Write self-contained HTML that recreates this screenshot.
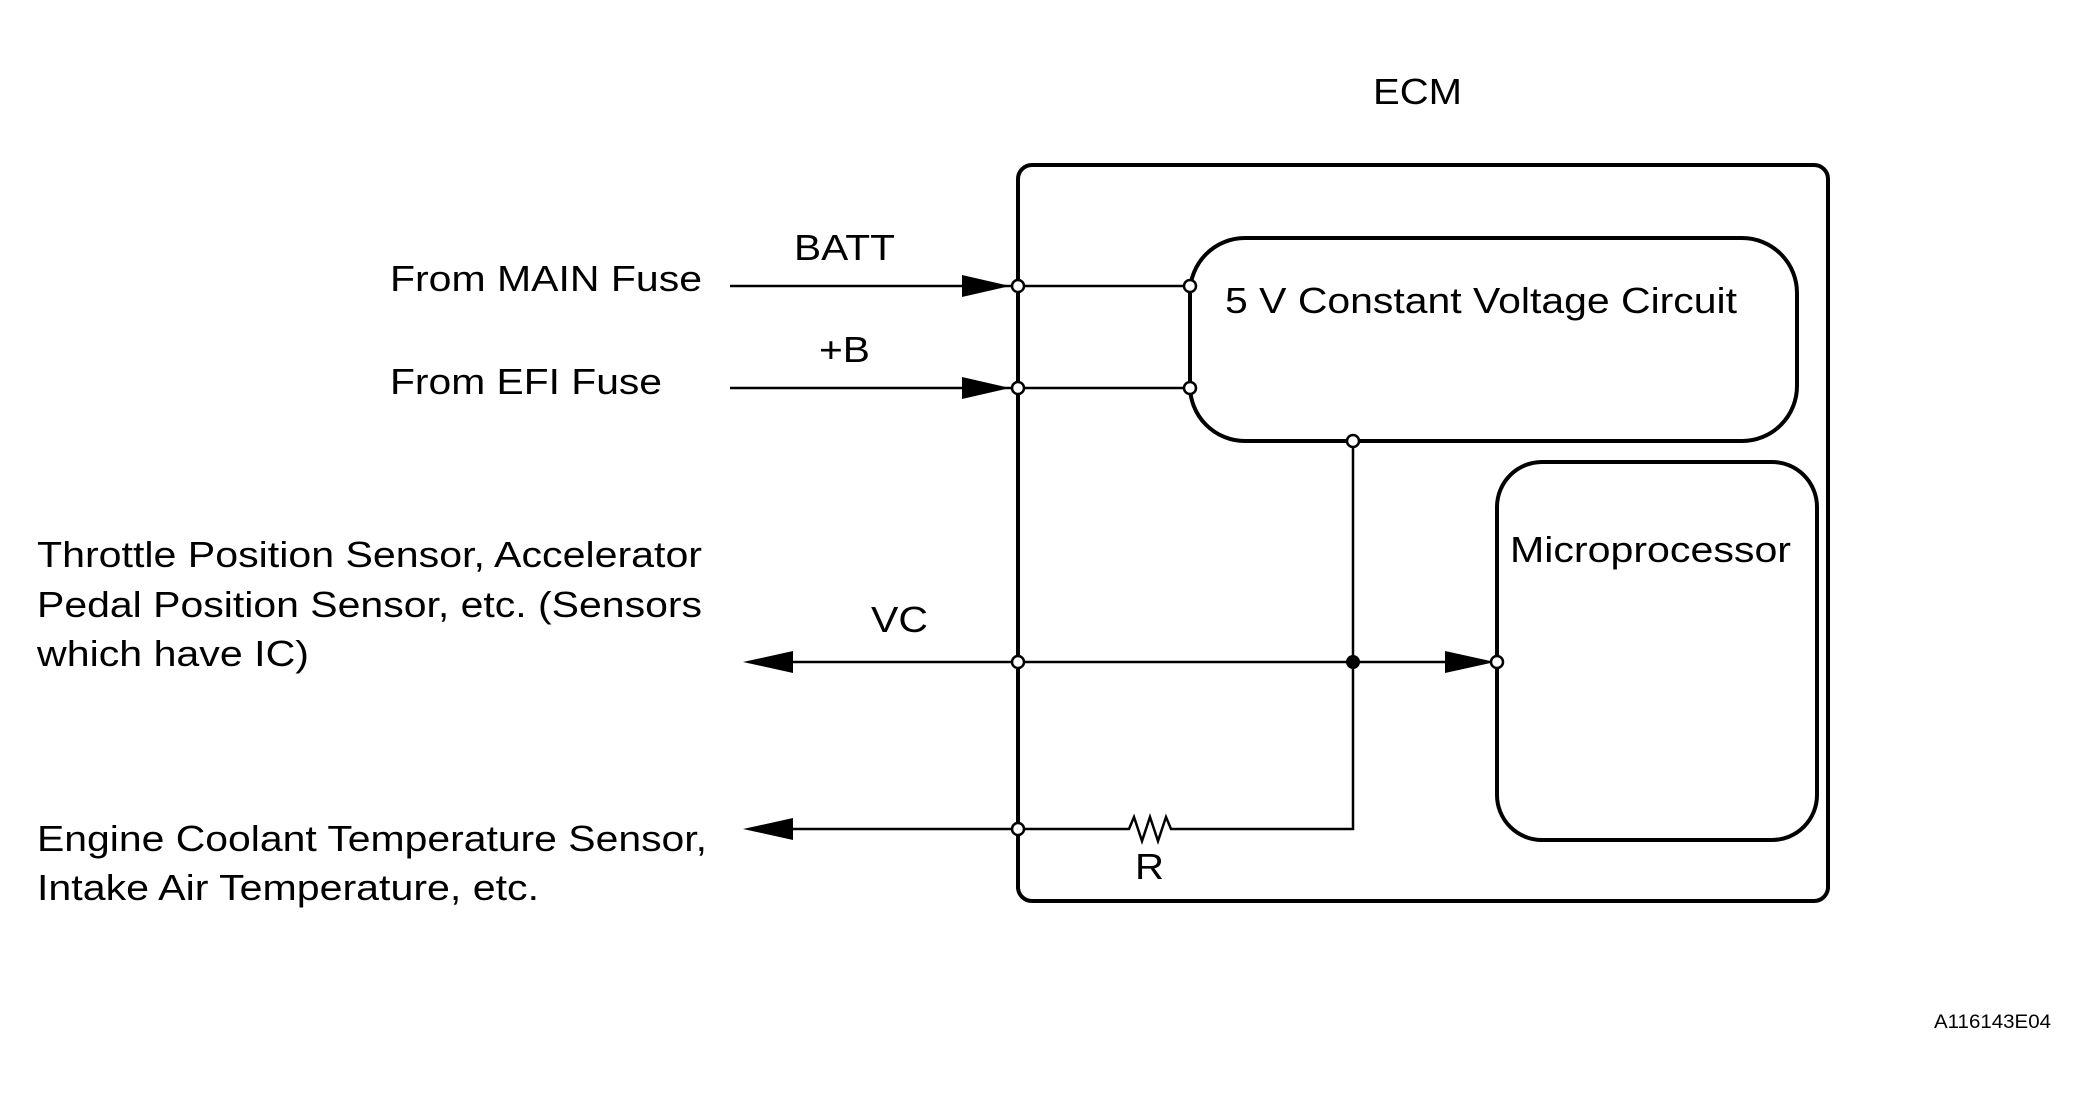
<!DOCTYPE html>
<html><head><style>html,body{margin:0;padding:0;background:#fff}svg{display:block}</style></head><body>
<svg width="2089" height="1105" viewBox="0 0 2089 1105" xmlns="http://www.w3.org/2000/svg" font-family="Liberation Sans, Arial, sans-serif" font-size="36" fill="#000">
<rect width="2089" height="1105" fill="#fff"/>
<g fill="none" stroke="#000">
<rect x="1018" y="165" width="810" height="736" rx="14" stroke-width="4"/>
<rect x="1190" y="238" width="607" height="203" rx="55" stroke-width="4"/>
<rect x="1497" y="462" width="320" height="378" rx="45" stroke-width="4"/>
<g stroke-width="2.5">
<line x1="730" y1="286" x2="1190" y2="286"/>
<line x1="730" y1="388" x2="1190" y2="388"/>
<line x1="790" y1="662" x2="1460" y2="662"/>
<polyline points="790,829 1129,829 1134,817 1142,841 1150,817 1158,841 1166,817 1171,829 1353,829 1353,441"/>
</g>
</g>
<g fill="#000">
<polygon points="962,275 1010,286 962,297"/>
<polygon points="962,377 1010,388 962,399"/>
<polygon points="743,662 793,651 793,673"/>
<polygon points="743,829 793,818 793,840"/>
<polygon points="1445,651 1495,662 1445,673"/>
<circle cx="1353" cy="662" r="7"/>
</g>
<g fill="#fff" stroke="#000" stroke-width="2.5">
<circle cx="1018" cy="286" r="6"/><circle cx="1018" cy="388" r="6"/>
<circle cx="1018" cy="662" r="6"/><circle cx="1018" cy="829" r="6"/>
<circle cx="1190" cy="286" r="6"/><circle cx="1190" cy="388" r="6"/>
<circle cx="1353" cy="441" r="6"/><circle cx="1497" cy="662" r="6"/>
</g>
<g lengthAdjust="spacingAndGlyphs">
<text x="1373" y="104" textLength="89" lengthAdjust="spacingAndGlyphs">ECM</text>
<text x="794" y="260" textLength="101" lengthAdjust="spacingAndGlyphs">BATT</text>
<text x="819" y="362" textLength="51" lengthAdjust="spacingAndGlyphs">+B</text>
<text x="390" y="291" textLength="312" lengthAdjust="spacingAndGlyphs">From MAIN Fuse</text>
<text x="390" y="394" textLength="272" lengthAdjust="spacingAndGlyphs">From EFI Fuse</text>
<text x="1225" y="313" textLength="512" lengthAdjust="spacingAndGlyphs">5 V Constant Voltage Circuit</text>
<text x="1510" y="562" textLength="281" lengthAdjust="spacingAndGlyphs">Microprocessor</text>
<text x="37" y="567" textLength="665" lengthAdjust="spacingAndGlyphs">Throttle Position Sensor, Accelerator</text>
<text x="37" y="617" textLength="665" lengthAdjust="spacingAndGlyphs">Pedal Position Sensor, etc. (Sensors</text>
<text x="37" y="666" textLength="272" lengthAdjust="spacingAndGlyphs">which have IC)</text>
<text x="871" y="632" textLength="57" lengthAdjust="spacingAndGlyphs">VC</text>
<text x="37" y="851" textLength="670" lengthAdjust="spacingAndGlyphs">Engine Coolant Temperature Sensor,</text>
<text x="37" y="900" textLength="502" lengthAdjust="spacingAndGlyphs">Intake Air Temperature, etc.</text>
<text x="1135" y="879" textLength="29" lengthAdjust="spacingAndGlyphs">R</text>
<text x="1934" y="1028" font-size="19" textLength="117" lengthAdjust="spacingAndGlyphs">A116143E04</text>
</g>
</svg>
</body></html>
